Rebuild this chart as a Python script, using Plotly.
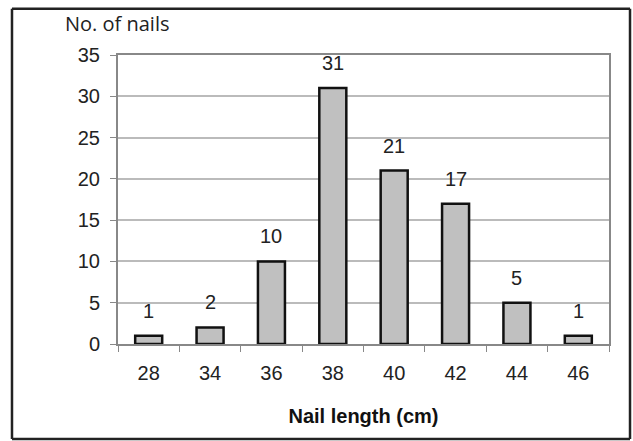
import plotly.graph_objects as go

categories = ["28", "34", "36", "38", "40", "42", "44", "46"]
counts = [1, 2, 10, 31, 21, 17, 5, 1]
y_ticks = [0, 5, 10, 15, 20, 25, 30, 35]

fig = go.Figure()
fig.add_trace(go.Bar(
    x=categories, y=counts,
    marker=dict(color="#c0c0c0", line=dict(color="#111111", width=2.5)),
    width=0.44,
))

for i, v in enumerate(counts):
    fig.add_annotation(x=i, y=v, xref="x", yref="y", text=str(v), showarrow=False, yshift=25,
                       font=dict(family="Liberation Sans, Arial", size=20, color="#222"))

border = dict(color="#222", width=2.5)
fig.update_layout(
    width=633, height=441,
    margin=dict(l=118, r=24, t=55, b=97),
    paper_bgcolor="white", plot_bgcolor="white",
    showlegend=False,
    font=dict(family="Liberation Sans, Arial", size=20, color="#222"),
    xaxis=dict(
        type="category", range=[-0.5, len(categories) - 0.5],
        tickson="boundaries", ticks="outside", ticklen=6, tickangle=0,
        ticklabelstandoff=10,
        tickcolor="#888", showline=True, linecolor="#888", linewidth=2,
        mirror=True, showgrid=False, tickfont=dict(size=20, color="#222"),
        title=dict(text="<b>Nail length (cm)</b>", font=dict(size=20, color="#111"), standoff=26),
    ),
    yaxis=dict(
        range=[0, 35], tickvals=y_ticks, ticks="outside", ticklen=6,
        ticklabelstandoff=6,
        tickcolor="#888", showline=True, linecolor="#888", linewidth=2,
        mirror=True, gridcolor="#bbbbbb", gridwidth=1.5, zeroline=False,
        tickfont=dict(size=20, color="#222"),
    ),
    shapes=[
        dict(type="line", xref="paper", yref="paper", x0=-0.2159, x1=1.0428, y0=1.16, y1=1.16, line=border, layer="above"),
        dict(type="line", xref="paper", yref="paper", x0=-0.2159, x1=1.0428, y0=-0.3287, y1=-0.3287, line=border, layer="above"),
        dict(type="line", xref="paper", yref="paper", x0=-0.2159, x1=-0.2159, y0=-0.3287, y1=1.16, line=border, layer="above"),
        dict(type="line", xref="paper", yref="paper", x0=1.0428, x1=1.0428, y0=-0.3287, y1=1.16, line=border, layer="above"),
    ],
)
fig.add_annotation(xref="paper", yref="paper", x=-0.112, y=1.1107,
                   xanchor="left", yanchor="middle", showarrow=False, text="No. of nails",
                   font=dict(family="Open Sans, Noto Sans", size=20, color="#222"))

fig.write_html("out.html", config={"displayModeBar": False},
               post_script="document.body.style.margin='0';")
